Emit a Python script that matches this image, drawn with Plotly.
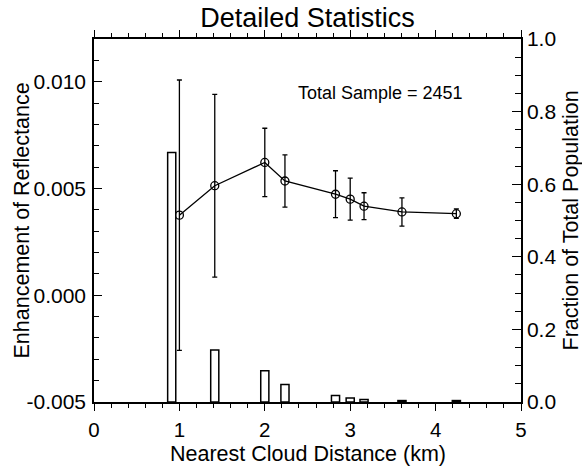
import plotly.graph_objects as go

# Data
distance_km = [1.0, 1.414, 2.0, 2.236, 2.828, 3.0, 3.162, 3.606, 4.243]
enhancement = [0.00375, 0.00513, 0.00622, 0.00535, 0.00473, 0.00450, 0.00417, 0.00390, 0.00382]
enhancement_err = [0.00633, 0.00428, 0.00160, 0.00122, 0.00110, 0.00098, 0.00063, 0.00066, 0.00022]

bar_x = [0.91, 1.414, 2.0, 2.236, 2.828, 3.0, 3.162, 3.606, 4.243]
fraction = [0.687, 0.143, 0.086, 0.048, 0.018, 0.011, 0.007, 0.004, 0.004]

y_tick_vals = [-0.005, 0.0, 0.005, 0.010]
y_tick_labels = ["-0.005", "0.000", "0.005", "0.010"]

FONT = "Liberation Sans, Arial, sans-serif"

fig = go.Figure()

fig.add_trace(go.Bar(
    x=bar_x, y=fraction, yaxis="y2", width=0.095,
    marker=dict(color="white", line=dict(color="black", width=1.5)),
    showlegend=False,
))

fig.add_trace(go.Scatter(
    x=distance_km, y=enhancement, mode="lines+markers",
    line=dict(color="black", width=1.3),
    marker=dict(symbol="circle-open", size=8, color="black", line=dict(width=1.3)),
    error_y=dict(type="data", array=enhancement_err, visible=True,
                 color="black", thickness=1.3, width=2.5),
    showlegend=False,
))

fig.add_annotation(
    text="Total Sample = 2451", x=3.353, y=0.00945, xref="x", yref="y",
    showarrow=False, xanchor="center", yanchor="middle",
    font=dict(family=FONT, size=18, color="black"),
)

# Axis titles as annotations for precise placement
fig.add_annotation(
    text="Nearest Cloud Distance (km)", x=0.5, y=0, xref="paper", yref="paper",
    xanchor="center", yanchor="middle", yshift=-52, showarrow=False,
    font=dict(family=FONT, size=21.5, color="black"),
)
fig.add_annotation(
    text="Enhancement of Reflectance", x=0, y=0.5, xref="paper", yref="paper",
    xanchor="center", yanchor="middle", xshift=-73, textangle=-90, showarrow=False,
    font=dict(family=FONT, size=21.5, color="black"),
)
fig.add_annotation(
    text="Fraction of Total Population", x=1, y=0.5, xref="paper", yref="paper",
    xanchor="center", yanchor="middle", xshift=49, textangle=-90, showarrow=False,
    font=dict(family=FONT, size=21.5, color="black"),
)

fig.update_layout(
    width=582, height=469,
    margin=dict(l=94, r=61, t=39, b=67),
    paper_bgcolor="white", plot_bgcolor="white",
    font=dict(family=FONT, color="black"),
    title=dict(text="Detailed Statistics", x=0.5, xref="paper", xanchor="center",
               y=0.983, yref="container", yanchor="top",
               font=dict(family=FONT, size=27, color="black")),
    xaxis=dict(
        range=[0, 5], dtick=1, tick0=0, ticks="outside", ticklen=7, tickwidth=1.3,
        tickcolor="black", showline=True, linecolor="black", linewidth=1.5,
        mirror="ticks", showgrid=False, zeroline=False, automargin=False,
        tickfont=dict(size=20.5), ticklabelstandoff=2,
        minor=dict(dtick=0.2, tick0=0, ticks="outside", ticklen=4, tickcolor="black", tickwidth=1),
    ),
    yaxis=dict(
        range=[-0.005, 0.012], tickvals=y_tick_vals, ticktext=y_tick_labels,
        ticks="inside", ticklen=8, tickwidth=1.3, tickcolor="black",
        showline=True, linecolor="black", linewidth=1.5, showgrid=False, zeroline=False,
        automargin=False, tickfont=dict(size=21), ticklabelstandoff=2,
        minor=dict(dtick=0.001, tick0=0, ticks="inside", ticklen=5, tickcolor="black", tickwidth=1),
    ),
    yaxis2=dict(
        range=[0, 1], dtick=0.2, tick0=0, tickformat=".1f", overlaying="y", side="right",
        ticks="inside", ticklen=9, tickwidth=1.3, tickcolor="black",
        showline=True, linecolor="black", linewidth=1.5, showgrid=False, zeroline=False,
        automargin=False, tickfont=dict(size=21), ticklabelstandoff=0,
        minor=dict(dtick=0.05, tick0=0, ticks="inside", ticklen=6, tickcolor="black", tickwidth=1),
    ),
)

fig.write_html(
    "out.html",
    config={"displayModeBar": False},
    post_script="document.body.style.margin='0';document.body.style.overflow='hidden';",
)
